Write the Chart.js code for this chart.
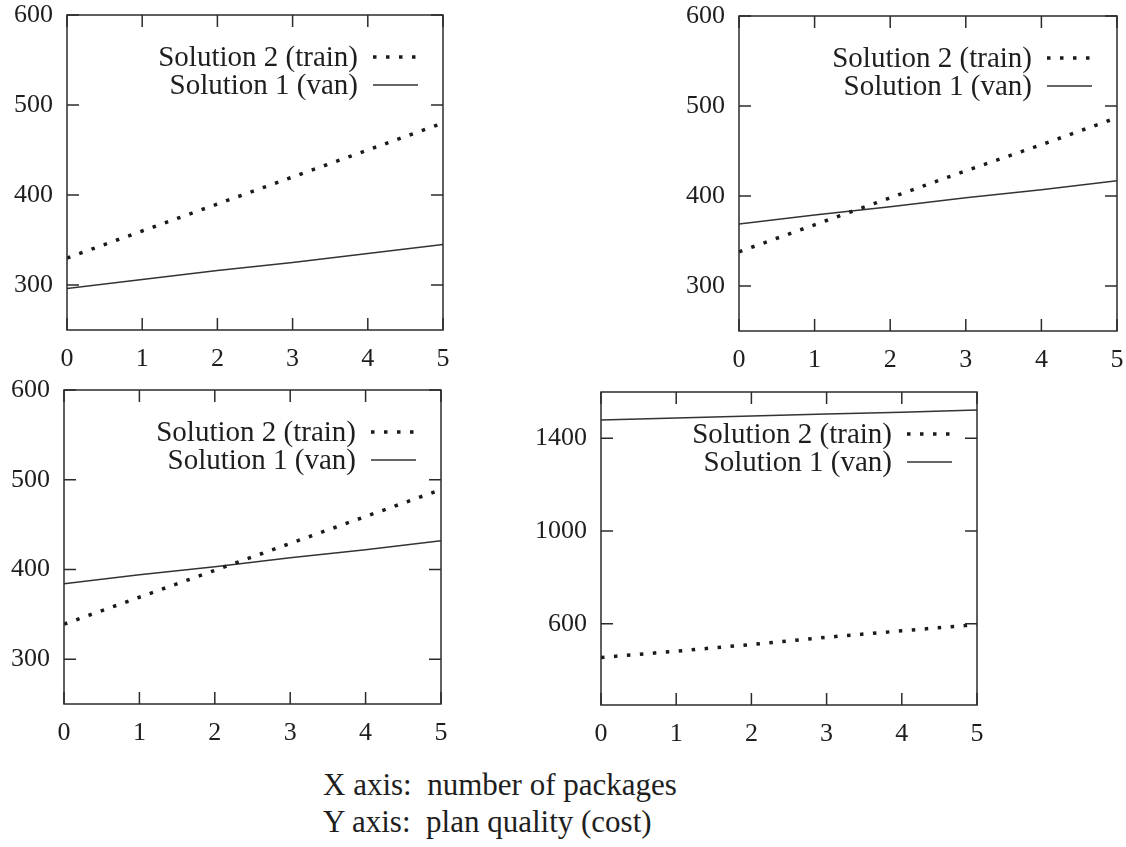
<!DOCTYPE html>
<html>
<head>
<meta charset="utf-8">
<script src="https://cdn.jsdelivr.net/npm/chart.js@4.4.1/dist/chart.umd.min.js"></script>
<style>
  body { margin: 0; background: #fff; width: 1126px; height: 847px; position: relative; overflow: hidden; }
  canvas { position: absolute; }
  #caption { position: absolute; left: 323px; top: 766px; font: 31px "Liberation Serif", serif; line-height: 37px; color: #1e1e1e; white-space: pre; }
</style>
</head>
<body>
<canvas id="p1" width="470" height="375" style="left:0;top:0"></canvas>
<canvas id="p2" width="466" height="376" style="left:660px;top:0"></canvas>
<canvas id="p3" width="470" height="379" style="left:0;top:370px"></canvas>
<canvas id="p4" width="500" height="380" style="left:500px;top:370px"></canvas>
<div id="caption">X axis:  number of packages
Y axis:  plan quality (cost)</div>
<script>
// number of packages
const xVals = [0, 1, 2, 3, 4, 5];
const xTicks = [0, 1, 2, 3, 4, 5];
const yTicksSmall = [300, 400, 500, 600];
const yTicksBig = [600, 1000, 1400];

const seriesNames = ["Solution 2 (train)", "Solution 1 (van)"];

// plan quality (cost)
const p1Train = [330, 360, 390, 420, 450, 480];
const p1Van   = [296, 306, 316, 325, 335, 345];
const p2Train = [338, 368, 398, 428, 457, 487];
const p2Van   = [369, 379, 388, 398, 407, 417];
const p3Train = [339, 369, 399, 429, 459, 489];
const p3Van   = [384, 394, 403, 413, 422, 432];
const p4Train = [455, 482, 511, 542, 570, 597];
const p4Van   = [1479, 1488, 1496, 1505, 1513, 1522];

const INK = "#2b2b2b";
const tickFont = { family: "Liberation Serif", size: 26 };

// box, inward ticks on all sides and the text-then-sample legend
const framePlugin = {
  id: "frame",
  afterDatasetsDraw(chart) {
    const { ctx, chartArea: a, scales: { x, y } } = chart;
    ctx.save();
    ctx.strokeStyle = INK;
    ctx.lineWidth = 1.5;
    ctx.setLineDash([]);
    ctx.strokeRect(a.left, a.top, a.right - a.left, a.bottom - a.top);
    ctx.beginPath();
    x.ticks.forEach((t) => {
      const px = x.getPixelForValue(t.value);
      ctx.moveTo(px, a.bottom); ctx.lineTo(px, a.bottom - 12);
      ctx.moveTo(px, a.top); ctx.lineTo(px, a.top + 12);
    });
    y.ticks.forEach((t) => {
      const py = y.getPixelForValue(t.value);
      ctx.moveTo(a.left, py); ctx.lineTo(a.left + 12, py);
      ctx.moveTo(a.right, py); ctx.lineTo(a.right - 12, py);
    });
    ctx.stroke();

    const sampleEnd = a.right - 25;
    const sampleStart = sampleEnd - 45;
    ctx.font = '29px "Liberation Serif"';
    ctx.textAlign = "right";
    ctx.textBaseline = "middle";
    chart.data.datasets.forEach((ds, i) => {
      const ly = a.top + 42 + i * 28;
      ctx.fillStyle = "#1e1e1e";
      ctx.fillText(ds.label, sampleStart - 15, ly + 1);
      ctx.strokeStyle = ds.borderColor;
      ctx.lineWidth = ds.borderWidth;
      ctx.setLineDash(ds.borderDash || []);
      ctx.beginPath();
      ctx.moveTo(sampleStart, ly);
      ctx.lineTo(sampleEnd, ly);
      ctx.stroke();
    });
    ctx.restore();
  },
};

function makePanel(id, train, van, yMin, yMax, yTicks, yWidth, padTop, padRight) {
  new Chart(document.getElementById(id), {
    type: "line",
    data: {
      datasets: [
        {
          label: seriesNames[0],
          data: xVals.map((x, i) => ({ x: x, y: train[i] })),
          borderColor: "#1a1a1a",
          borderWidth: 3.5,
          borderDash: [3.5, 9.5],
          pointRadius: 0,
        },
        {
          label: seriesNames[1],
          data: xVals.map((x, i) => ({ x: x, y: van[i] })),
          borderColor: "#333",
          borderWidth: 1.5,
          pointRadius: 0,
        },
      ],
    },
    options: {
      responsive: false,
      animation: false,
      devicePixelRatio: 1,
      layout: { padding: { top: padTop, right: padRight, left: 0, bottom: 0 } },
      plugins: { legend: { display: false }, tooltip: { enabled: false } },
      scales: {
        x: {
          type: "linear",
          min: 0,
          max: 5,
          afterBuildTicks: (s) => { s.ticks = xTicks.map((v) => ({ value: v })); },
          afterFit: (s) => { s.height = 45; s.paddingLeft = 0; s.paddingRight = 0; },
          grid: { display: false, drawTicks: false },
          border: { display: false },
          ticks: { font: tickFont, color: "#1e1e1e", padding: 14, maxRotation: 0 },
        },
        y: {
          min: yMin,
          max: yMax,
          afterBuildTicks: (s) => { s.ticks = yTicks.map((v) => ({ value: v })); },
          afterFit: (s) => { s.width = yWidth; s.paddingTop = 0; s.paddingBottom = 0; },
          grid: { display: false, drawTicks: false },
          border: { display: false },
          ticks: { font: tickFont, color: "#1e1e1e", padding: 14, callback: (v) => String(v) },
        },
      },
    },
    plugins: [framePlugin],
  });
}

makePanel("p1", p1Train, p1Van, 250, 600, yTicksSmall, 67, 15, 27);
makePanel("p2", p2Train, p2Van, 250, 600, yTicksSmall, 79, 16, 9);
makePanel("p3", p3Train, p3Van, 250, 600, yTicksSmall, 64, 20, 29);
makePanel("p4", p4Train, p4Van, 250, 1600, yTicksBig, 101, 22, 23);
</script>
</body>
</html>
